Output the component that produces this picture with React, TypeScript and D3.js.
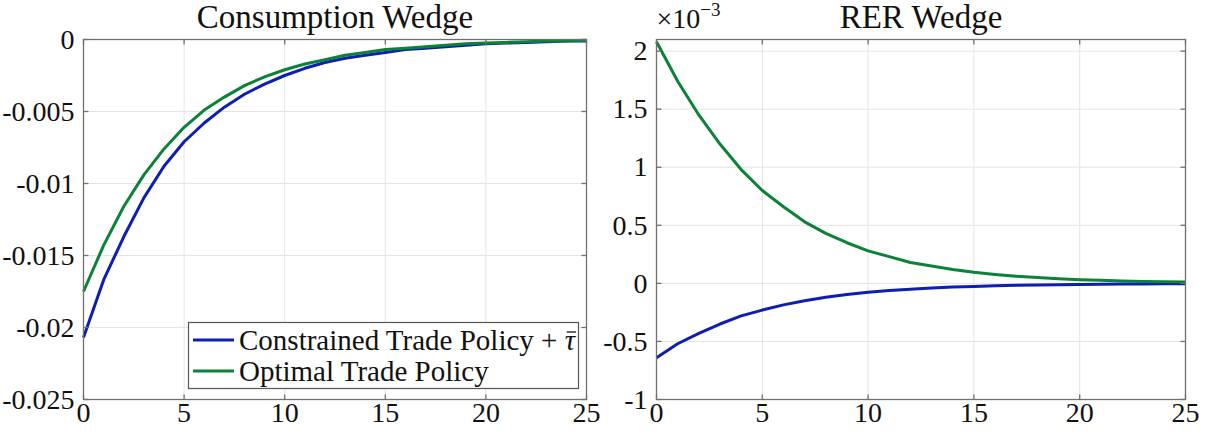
import * as d3 from "d3";
import { useLayoutEffect, useRef, useState } from "react";

const periods = d3.range(0, 26);

// Consumption wedge
const consConstrained = [
  -0.0207, -0.0167, -0.0137, -0.011, -0.0088, -0.0071, -0.0058, -0.0047, -0.0038, -0.0031,
  -0.0025, -0.002, -0.0016, -0.0013, -0.0011, -0.0009, -0.0007, -0.0006, -0.0005, -0.0004,
  -0.0003, -0.00025, -0.0002, -0.00015, -0.0001, -0.0001,
];
const consOptimal = [
  -0.0175, -0.0143, -0.0116, -0.0094, -0.0076, -0.0061, -0.0049, -0.004, -0.0032, -0.0026,
  -0.0021, -0.0017, -0.0014, -0.0011, -0.0009, -0.0007, -0.0006, -0.0005, -0.0004, -0.0003,
  -0.00025, -0.0002, -0.00015, -0.0001, -0.0001, -0.00005,
];

// RER wedge, in units of 1e-3
const rerConstrained = [
  -0.64, -0.52, -0.43, -0.35, -0.28, -0.23, -0.185, -0.15, -0.12, -0.095,
  -0.077, -0.062, -0.05, -0.04, -0.032, -0.026, -0.021, -0.017, -0.013, -0.011,
  -0.009, -0.007, -0.0055, -0.0045, -0.0035, -0.003,
];
const rerOptimal = [
  2.08, 1.74, 1.45, 1.2, 0.98, 0.8, 0.66, 0.53, 0.43, 0.35,
  0.28, 0.23, 0.18, 0.15, 0.12, 0.095, 0.077, 0.062, 0.05, 0.04,
  0.032, 0.026, 0.021, 0.017, 0.013, 0.011,
];

const xTicks = [0, 5, 10, 15, 20, 25];
const consTicks = [0, -0.005, -0.01, -0.015, -0.02, -0.025];
const consTickLabels = ["0", "-0.005", "-0.01", "-0.015", "-0.02", "-0.025"];
const rerTicks = [2, 1.5, 1, 0.5, 0, -0.5, -1];
const rerTickLabels = ["2", "1.5", "1", "0.5", "0", "-0.5", "-1"];

const seriesNames = ["Constrained Trade Policy + ", "Optimal Trade Policy"];
const BLUE = "#0c1fb0";
const GREEN = "#0b8238";
const FONT = '"Liberation Serif", "Times New Roman", serif';
const TXT = "#111";

type PanelProps = {
  left: number;
  right: number;
  title: string;
  yDomain: [number, number];
  yTicks: number[];
  yLabels: string[];
  blue: number[];
  green: number[];
  exponent?: boolean;
  legend?: boolean;
};

const TOP = 39.5;
const BOTTOM = 399.5;

function Legend() {
  const ref = useRef<SVGTextElement>(null);
  const [bar, setBar] = useState<[number, number] | null>(null);
  useLayoutEffect(() => {
    const el = ref.current;
    if (!el) return;
    const n = el.getNumberOfChars();
    const ext = el.getExtentOfChar(n - 1);
    setBar([ext.x + 2, ext.x + ext.width + 1]);
  }, []);
  return (
    <g>
      <rect x={188.5} y={322.5} width={390} height={66} fill="#fff" stroke="#555" strokeWidth={1.2} />
      <line x1={193} x2={234} y1={340} y2={340} stroke={BLUE} strokeWidth={3} />
      <line x1={193} x2={234} y1={371} y2={371} stroke={GREEN} strokeWidth={3} />
      <text ref={ref} x={239} y={340} dy="0.33em" fontSize={29} style={{ fontFamily: FONT }} fill={TXT}>
        {seriesNames[0]}
        <tspan fontStyle="italic">τ</tspan>
      </text>
      {bar && <line x1={bar[0]} x2={bar[1]} y1={332} y2={332} stroke={TXT} strokeWidth={1.3} />}
      <text x={239} y={371} dy="0.33em" fontSize={29} style={{ fontFamily: FONT }} fill={TXT}>
        {seriesNames[1]}
      </text>
    </g>
  );
}

function Panel({ left, right, title, yDomain, yTicks, yLabels, blue, green, exponent, legend }: PanelProps) {
  const x = d3.scaleLinear().domain([0, 25]).range([left, right]);
  const y = d3.scaleLinear().domain(yDomain).range([BOTTOM, TOP]);
  const line = (vals: number[]) =>
    d3
      .line<number>()
      .x((_, i) => x(periods[i]))
      .y((d) => y(d))(vals) || "";
  const tickLen = 5;
  const axisColor = "#707070";
  return (
    <g>
      {/* grid */}
      {xTicks.map((t) => (
        <line key={"gx" + t} x1={x(t)} x2={x(t)} y1={TOP} y2={BOTTOM} stroke="#e4e4e4" strokeWidth={1} />
      ))}
      {yTicks.map((t) => (
        <line key={"gy" + t} x1={left} x2={right} y1={y(t)} y2={y(t)} stroke="#e4e4e4" strokeWidth={1} />
      ))}
      {/* series */}
      <path d={line(blue)} fill="none" stroke={BLUE} strokeWidth={3} strokeLinejoin="round" />
      <path d={line(green)} fill="none" stroke={GREEN} strokeWidth={3} strokeLinejoin="round" />
      {/* box */}
      <rect x={left} y={TOP} width={right - left} height={BOTTOM - TOP} fill="none" stroke={axisColor} strokeWidth={1.3} />
      {/* ticks */}
      {xTicks.map((t) => (
        <g key={"tx" + t}>
          <line x1={x(t)} x2={x(t)} y1={BOTTOM} y2={BOTTOM - tickLen} stroke={axisColor} strokeWidth={1.3} />
          <line x1={x(t)} x2={x(t)} y1={TOP} y2={TOP + tickLen} stroke={axisColor} strokeWidth={1.3} />
          <text x={x(t)} y={BOTTOM + 22} textAnchor="middle" fontSize={28} style={{ fontFamily: FONT }} fill={TXT}>
            {t}
          </text>
        </g>
      ))}
      {yTicks.map((t, i) => (
        <g key={"ty" + t}>
          <line x1={left} x2={left + tickLen} y1={y(t)} y2={y(t)} stroke={axisColor} strokeWidth={1.3} />
          <line x1={right} x2={right - tickLen} y1={y(t)} y2={y(t)} stroke={axisColor} strokeWidth={1.3} />
          <text x={left - 9} y={y(t)} dy="0.33em" textAnchor="end" fontSize={28} style={{ fontFamily: FONT }} fill={TXT}>
            {yLabels[i]}
          </text>
        </g>
      ))}
      {/* title */}
      <text x={(left + right) / 2} y={28} textAnchor="middle" fontSize={33} style={{ fontFamily: FONT }} fill={TXT}>
        {title}
      </text>
      {exponent && (
        <text x={left} y={28} fontSize={28} style={{ fontFamily: FONT }} fill={TXT}>
          ×10
          <tspan fontSize={19} dy={-12}>
            −3
          </tspan>
        </text>
      )}
      {legend && <Legend />}
    </g>
  );
}

export default function App() {
  return (
    <svg width={1212} height={439} style={{ position: "absolute", left: 0, top: 0, background: "#fff" }}>
      <rect width={1212} height={439} fill="#fff" />
      <Panel
        left={83.5}
        right={586.5}
        title="Consumption Wedge"
        yDomain={[-0.025, 0]}
        yTicks={consTicks}
        yLabels={consTickLabels}
        blue={consConstrained}
        green={consOptimal}
        legend
      />
      <Panel
        left={656.5}
        right={1185.5}
        title="RER Wedge"
        yDomain={[-1, 2.1]}
        yTicks={rerTicks}
        yLabels={rerTickLabels}
        blue={rerConstrained}
        green={rerOptimal}
        exponent
      />
    </svg>
  );
}
